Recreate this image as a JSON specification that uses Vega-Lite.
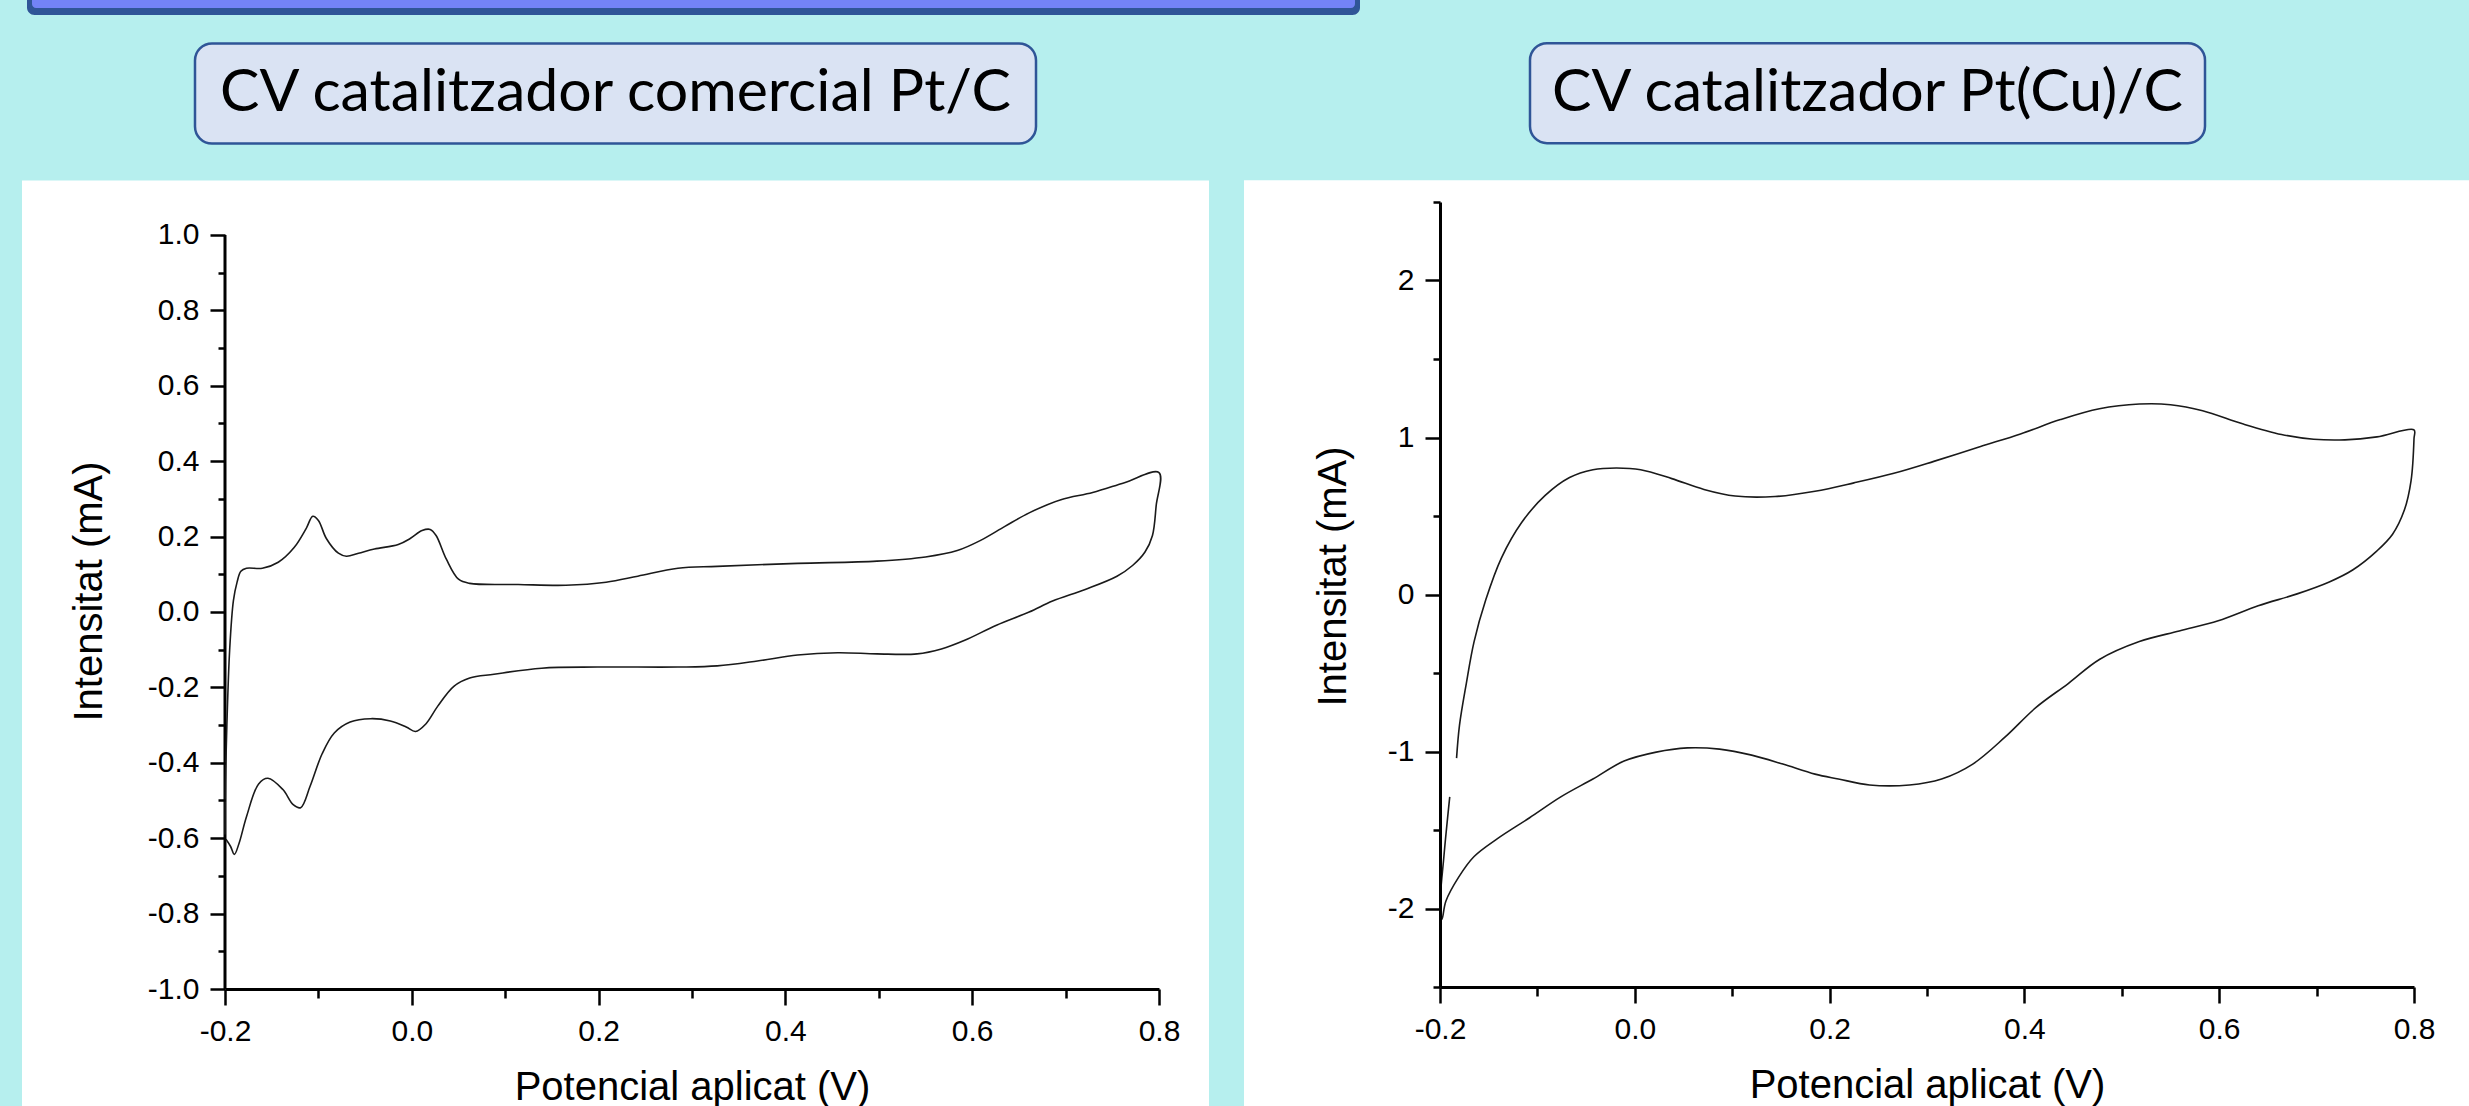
{
  "$schema": "https://vega.github.io/schema/vega-lite/v6.json",
  "background": "#B6EFEE",
  "padding": {"left": 22, "top": 0, "right": 0, "bottom": 0},
  "datasets": {
    "pt": [
      {"i":0,"V":-0.2,"I":-0.59},{"i":1,"V":-0.1995,"I":-0.45},{"i":2,"V":-0.198,"I":-0.30},{"i":3,"V":-0.195,"I":-0.10},
      {"i":4,"V":-0.191,"I":0.03},{"i":5,"V":-0.187,"I":0.08},{"i":6,"V":-0.183,"I":0.108},{"i":7,"V":-0.177,"I":0.116},
      {"i":8,"V":-0.160,"I":0.116},{"i":9,"V":-0.143,"I":0.132},{"i":10,"V":-0.126,"I":0.171},{"i":11,"V":-0.113,"I":0.222},
      {"i":12,"V":-0.106,"I":0.254},{"i":13,"V":-0.100,"I":0.243},{"i":14,"V":-0.0915,"I":0.195},{"i":15,"V":-0.0786,"I":0.156},
      {"i":16,"V":-0.070,"I":0.148},{"i":17,"V":-0.057,"I":0.156},{"i":18,"V":-0.040,"I":0.167},{"i":19,"V":-0.0145,"I":0.179},
      {"i":20,"V":-0.0017,"I":0.195},{"i":21,"V":0.011,"I":0.216},{"i":22,"V":0.0197,"I":0.219},{"i":23,"V":0.026,"I":0.203},
      {"i":24,"V":0.037,"I":0.140},{"i":25,"V":0.050,"I":0.087},{"i":26,"V":0.062,"I":0.076},{"i":27,"V":0.114,"I":0.073},
      {"i":28,"V":0.165,"I":0.071},{"i":29,"V":0.208,"I":0.079},{"i":30,"V":0.242,"I":0.095},{"i":31,"V":0.285,"I":0.116},
      {"i":32,"V":0.327,"I":0.121},{"i":33,"V":0.413,"I":0.129},{"i":34,"V":0.498,"I":0.135},{"i":35,"V":0.550,"I":0.146},
      {"i":36,"V":0.584,"I":0.163},{"i":37,"V":0.609,"I":0.190},{"i":38,"V":0.635,"I":0.227},{"i":39,"V":0.661,"I":0.263},
      {"i":40,"V":0.695,"I":0.298},{"i":41,"V":0.729,"I":0.317},{"i":42,"V":0.763,"I":0.343},{"i":43,"V":0.800,"I":0.370},
      {"i":44,"V":0.797,"I":0.283},{"i":45,"V":0.793,"I":0.203},{"i":46,"V":0.785,"I":0.159},{"i":47,"V":0.772,"I":0.124},
      {"i":48,"V":0.755,"I":0.095},{"i":49,"V":0.721,"I":0.060},{"i":50,"V":0.686,"I":0.029},{"i":51,"V":0.661,"I":0.000},
      {"i":52,"V":0.626,"I":-0.035},{"i":53,"V":0.592,"I":-0.075},{"i":54,"V":0.567,"I":-0.098},{"i":55,"V":0.541,"I":-0.111},
      {"i":56,"V":0.498,"I":-0.111},{"i":57,"V":0.456,"I":-0.108},{"i":58,"V":0.413,"I":-0.114},{"i":59,"V":0.370,"I":-0.130},
      {"i":60,"V":0.327,"I":-0.143},{"i":61,"V":0.285,"I":-0.146},{"i":62,"V":0.199,"I":-0.146},{"i":63,"V":0.139,"I":-0.149},
      {"i":64,"V":0.088,"I":-0.165},{"i":65,"V":0.062,"I":-0.175},{"i":66,"V":0.045,"I":-0.197},{"i":67,"V":0.028,"I":-0.249},
      {"i":68,"V":0.015,"I":-0.297},{"i":69,"V":0.004,"I":-0.317},{"i":70,"V":-0.006,"I":-0.305},{"i":71,"V":-0.023,"I":-0.289},
      {"i":72,"V":-0.044,"I":-0.283},{"i":73,"V":-0.066,"I":-0.292},{"i":74,"V":-0.083,"I":-0.321},{"i":75,"V":-0.096,"I":-0.376},
      {"i":76,"V":-0.109,"I":-0.463},{"i":77,"V":-0.119,"I":-0.519},{"i":78,"V":-0.127,"I":-0.511},{"i":79,"V":-0.138,"I":-0.471},
      {"i":80,"V":-0.154,"I":-0.441},{"i":81,"V":-0.164,"I":-0.456},{"i":82,"V":-0.177,"I":-0.543},{"i":83,"V":-0.185,"I":-0.614},
      {"i":84,"V":-0.190,"I":-0.643},{"i":85,"V":-0.194,"I":-0.622},{"i":86,"V":-0.199,"I":-0.603}
    ],
    "ptcu": [
      {"i":0,"V":-0.183,"I":-1.042},{"i":1,"V":-0.180,"I":-0.833},{"i":2,"V":-0.173,"I":-0.567},{"i":3,"V":-0.165,"I":-0.300},
      {"i":4,"V":-0.153,"I":-0.034},{"i":5,"V":-0.137,"I":0.232},{"i":6,"V":-0.116,"I":0.460},{"i":7,"V":-0.092,"I":0.631},
      {"i":8,"V":-0.067,"I":0.745},{"i":9,"V":-0.043,"I":0.795},{"i":10,"V":-0.019,"I":0.806},{"i":11,"V":0.006,"I":0.795},
      {"i":12,"V":0.038,"I":0.738},{"i":13,"V":0.071,"I":0.669},{"i":14,"V":0.103,"I":0.627},{"i":15,"V":0.144,"I":0.624},
      {"i":16,"V":0.185,"I":0.658},{"i":17,"V":0.225,"I":0.711},{"i":18,"V":0.266,"I":0.772},{"i":19,"V":0.307,"I":0.848},
      {"i":20,"V":0.355,"I":0.943},{"i":21,"V":0.396,"I":1.023},{"i":22,"V":0.437,"I":1.114},{"i":23,"V":0.477,"I":1.183},
      {"i":24,"V":0.518,"I":1.213},{"i":25,"V":0.550,"I":1.209},{"i":26,"V":0.583,"I":1.171},{"i":27,"V":0.624,"I":1.087},
      {"i":28,"V":0.664,"I":1.019},{"i":29,"V":0.697,"I":0.989},{"i":30,"V":0.729,"I":0.985},{"i":31,"V":0.762,"I":1.004},
      {"i":32,"V":0.800,"I":1.049},{"i":33,"V":0.800,"I":0.992},{"i":34,"V":0.797,"I":0.726},{"i":35,"V":0.790,"I":0.536},
      {"i":36,"V":0.778,"I":0.384},{"i":37,"V":0.762,"I":0.278},{"i":38,"V":0.737,"I":0.156},{"i":39,"V":0.713,"I":0.080},
      {"i":40,"V":0.680,"I":0.004},{"i":41,"V":0.640,"I":-0.072},{"i":42,"V":0.599,"I":-0.167},{"i":43,"V":0.559,"I":-0.232},
      {"i":44,"V":0.518,"I":-0.300},{"i":45,"V":0.477,"I":-0.414},{"i":46,"V":0.445,"I":-0.567},{"i":47,"V":0.412,"I":-0.719},
      {"i":48,"V":0.380,"I":-0.909},{"i":49,"V":0.347,"I":-1.080},{"i":50,"V":0.315,"I":-1.175},{"i":51,"V":0.282,"I":-1.213},
      {"i":52,"V":0.241,"I":-1.213},{"i":53,"V":0.209,"I":-1.175},{"i":54,"V":0.185,"I":-1.144},{"i":55,"V":0.152,"I":-1.080},
      {"i":56,"V":0.120,"I":-1.023},{"i":57,"V":0.087,"I":-0.985},{"i":58,"V":0.054,"I":-0.977},{"i":59,"V":0.022,"I":-1.004},
      {"i":60,"V":-0.011,"I":-1.061},{"i":61,"V":-0.043,"I":-1.175},{"i":62,"V":-0.076,"I":-1.289},{"i":63,"V":-0.108,"I":-1.422},
      {"i":64,"V":-0.141,"I":-1.555},{"i":65,"V":-0.165,"I":-1.669},{"i":66,"V":-0.181,"I":-1.802},{"i":67,"V":-0.194,"I":-1.954},
      {"i":68,"V":-0.198,"I":-2.068},{"i":69,"V":-0.200,"I":-2.0},{"i":70,"V":-0.196,"I":-1.669},{"i":71,"V":-0.190,"I":-1.289}
    ]
  },
  "vconcat": [
    {
      "width": 1135,
      "height": 15,
      "data": {"values": [{}]},
      "layer": [
        {
          "mark": {"type": "rect", "color": "#2F5597", "cornerRadiusBottomLeft": 16, "cornerRadiusBottomRight": 16, "clip": false},
          "encoding": {
            "x": {"datum": -0.17445, "type": "quantitative", "scale": {"domain": [0, 1], "nice": false, "zero": false}, "axis": null},
            "x2": {"datum": 1},
            "y": {"datum": 0, "type": "quantitative", "scale": {"domain": [0, 1], "nice": false, "zero": false}, "axis": null},
            "y2": {"datum": 1}
          }
        },
        {
          "mark": {"type": "rect", "color": "#7383F6", "cornerRadiusBottomLeft": 12, "cornerRadiusBottomRight": 12, "clip": false},
          "encoding": {
            "x": {"datum": -0.17004, "type": "quantitative", "scale": {"domain": [0, 1], "nice": false, "zero": false}, "axis": null},
            "x2": {"datum": 0.99559},
            "y": {"datum": 0.467, "type": "quantitative", "scale": {"domain": [0, 1], "nice": false, "zero": false}, "axis": null},
            "y2": {"datum": 1}
          }
        }
      ]
    },
    {
      "hconcat": [
        {
          "width": 934,
          "height": 787,
          "layer": [
            {
              "data": {"values": [{}]},
              "mark": {"type": "rect", "color": "#FFFFFF", "clip": false},
              "encoding": {
                "x": {"datum": -0.41734, "type": "quantitative", "scale": {"domain": [-0.2, 0.8], "nice": false, "zero": false},
                      "axis": {"orient": "bottom", "zindex": 2, "values": [-0.1, 0.1, 0.3, 0.5, 0.7], "tickSize": 9, "labels": false, "domain": false, "title": null}},
                "x2": {"datum": 0.85353},
                "y": {"datum": -1.31432, "type": "quantitative", "scale": {"domain": [-1, 1.08753], "nice": false, "zero": false},
                      "axis": {"orient": "left", "zindex": 2, "values": [-0.9, -0.7, -0.5, -0.3, -0.1, 0.1, 0.3, 0.5, 0.7, 0.9], "tickSize": 7, "labels": false, "domain": false, "title": null}},
                "y2": {"datum": 1.14456}
              }
            },
            {
              "data": {"values": [{}]},
              "mark": {"type": "rule", "color": "#000000", "strokeWidth": 3, "clip": false},
              "encoding": {
                "x": {"datum": -0.2, "type": "quantitative", "scale": {"domain": [-0.2, 0.8], "nice": false, "zero": false}, "axis": null},
                "y": {"datum": -1, "type": "quantitative", "scale": {"domain": [-1, 1.08753], "nice": false, "zero": false}, "axis": null},
                "y2": {"datum": 1}
              }
            },
            {
              "data": {"values": [{}]},
              "mark": {"type": "rect", "fill": "#DAE3F3", "stroke": "#2F5597", "strokeWidth": 2.5, "cornerRadius": 17, "clip": false},
              "encoding": {
                "x": {"datum": -0.23212, "type": "quantitative", "scale": {"domain": [-0.2, 0.8], "nice": false, "zero": false}, "axis": null},
                "x2": {"datum": 0.66831},
                "y": {"datum": 1.24271, "type": "quantitative", "scale": {"domain": [-1, 1.08753], "nice": false, "zero": false}, "axis": null},
                "y2": {"datum": 1.50796}
              }
            },
            {
              "data": {"values": [{}]},
              "mark": {"type": "text", "font": "Lato", "fontSize": 59, "color": "#000000", "align": "center", "baseline": "middle", "clip": false},
              "encoding": {
                "x": {"datum": 0.21809, "type": "quantitative", "scale": {"domain": [-0.2, 0.8], "nice": false, "zero": false}, "axis": null},
                "y": {"datum": 1.37533, "type": "quantitative", "scale": {"domain": [-1, 1.08753], "nice": false, "zero": false}, "axis": null},
                "text": {"value": "CV catalitzador comercial Pt/C"}
              }
            },
            {
              "data": {"name": "pt"},
              "mark": {"type": "line", "interpolate": "catmull-rom", "color": "#1A1A1A", "strokeWidth": 1.6},
              "encoding": {
                "x": {"field": "V", "type": "quantitative", "scale": {"domain": [-0.2, 0.8], "nice": false, "zero": false},
                      "axis": {"orient": "bottom", "zindex": 2, "values": [-0.2, 0, 0.2, 0.4, 0.6, 0.8], "tickSize": 16,
                               "labelExpr": "replace(format(datum.value, '.1f'), '\u2212', '-')",
                               "title": "Potencial aplicat (V)", "titleY": 78}},
                "y": {"field": "I", "type": "quantitative", "scale": {"domain": [-1, 1.08753], "nice": false, "zero": false},
                      "axis": {"orient": "left", "zindex": 2, "domain": false, "values": [-1, -0.8, -0.6, -0.4, -0.2, 0, 0.2, 0.4, 0.6, 0.8, 1], "tickSize": 15,
                               "labelExpr": "replace(format(datum.value, '.1f'), '\u2212', '-')",
                               "title": "Intensitat (mA)", "titleX": -116, "titleY": 389}},
                "order": {"field": "i", "type": "quantitative"}
              }
            }
          ],
          "resolve": {"axis": {"x": "independent", "y": "independent"}}
        },
        {
          "width": 974,
          "height": 785,
          "layer": [
            {
              "data": {"values": [{}]},
              "mark": {"type": "rect", "color": "#FFFFFF", "clip": false},
              "encoding": {
                "x": {"datum": -0.40123, "type": "quantitative", "scale": {"domain": [-0.2, 0.8], "nice": false, "zero": false},
                      "axis": {"orient": "bottom", "zindex": 2, "values": [-0.1, 0.1, 0.3, 0.5, 0.7], "tickSize": 9, "labels": false, "domain": false, "title": null}},
                "x2": {"datum": 0.85647},
                "y": {"datum": -3.26561, "type": "quantitative", "scale": {"domain": [-2.5, 2.5], "nice": false, "zero": false},
                      "axis": {"orient": "left", "zindex": 2, "values": [-2.5, -1.5, -0.5, 0.5, 1.5, 2.5], "tickSize": 7, "labels": false, "domain": false, "title": null}},
                "y2": {"datum": 2.63885}
              }
            },
            {
              "data": {"values": [{}]},
              "mark": {"type": "rect", "fill": "#DAE3F3", "stroke": "#2F5597", "strokeWidth": 2.5, "cornerRadius": 17, "clip": false},
              "encoding": {
                "x": {"datum": -0.1076, "type": "quantitative", "scale": {"domain": [-0.2, 0.8], "nice": false, "zero": false}, "axis": null},
                "x2": {"datum": 0.58542},
                "y": {"datum": 2.87452, "type": "quantitative", "scale": {"domain": [-2.5, 2.5], "nice": false, "zero": false}, "axis": null},
                "y2": {"datum": 3.51146}
              }
            },
            {
              "data": {"values": [{}]},
              "mark": {"type": "text", "font": "Lato", "fontSize": 59, "color": "#000000", "align": "center", "baseline": "middle", "clip": false},
              "encoding": {
                "x": {"datum": 0.23891, "type": "quantitative", "scale": {"domain": [-0.2, 0.8], "nice": false, "zero": false}, "axis": null},
                "y": {"datum": 3.19299, "type": "quantitative", "scale": {"domain": [-2.5, 2.5], "nice": false, "zero": false}, "axis": null},
                "text": {"value": "CV catalitzador Pt(Cu)/C"}
              }
            },
            {
              "data": {"name": "ptcu"},
              "mark": {"type": "line", "interpolate": "catmull-rom", "color": "#1A1A1A", "strokeWidth": 1.6},
              "encoding": {
                "x": {"field": "V", "type": "quantitative", "scale": {"domain": [-0.2, 0.8], "nice": false, "zero": false},
                      "axis": {"orient": "bottom", "zindex": 2, "values": [-0.2, 0, 0.2, 0.4, 0.6, 0.8], "tickSize": 16,
                               "labelExpr": "replace(format(datum.value, '.1f'), '\u2212', '-')",
                               "title": "Potencial aplicat (V)", "titleY": 78}},
                "y": {"field": "I", "type": "quantitative", "scale": {"domain": [-2.5, 2.5], "nice": false, "zero": false},
                      "axis": {"orient": "left", "zindex": 2, "values": [-2, -1, 0, 1, 2], "tickSize": 15,
                               "labelExpr": "replace(format(datum.value, 'd'), '\u2212', '-')",
                               "title": "Intensitat (mA)", "titleX": -87, "titleY": 374}},
                "order": {"field": "i", "type": "quantitative"}
              }
            }
          ],
          "resolve": {"axis": {"x": "independent", "y": "independent"}}
        }
      ],
      "spacing": 35,
      "resolve": {"scale": {"x": "independent", "y": "independent"}}
    }
  ],
  "spacing": 26,
  "resolve": {"scale": {"x": "independent", "y": "independent"}},
  "config": {
    "view": {"stroke": null},
    "axis": {
      "grid": false,
      "labelFlush": false,
      "labelOverlap": false,
      "domainColor": "#000000",
      "domainWidth": 3,
      "tickColor": "#000000",
      "tickWidth": 2.5,
      "labelFont": "Liberation Sans",
      "labelFontSize": 30,
      "labelColor": "#000000",
      "labelPadding": 11,
      "titleFont": "Liberation Sans",
      "titleFontSize": 40,
      "titleFontWeight": "normal",
      "titleColor": "#000000"
    }
  }
}
